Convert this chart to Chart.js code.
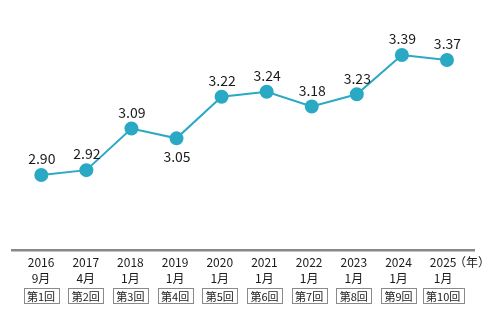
<!DOCTYPE html>
<html>
<head>
<meta charset="utf-8">
<script src="https://cdn.jsdelivr.net/npm/chart.js@4"></script>
<style>
html,body{margin:0;padding:0;background:#fff;}
#c{display:block;}
</style>
</head>
<body>
<canvas id="c" width="486" height="323"></canvas>
<script>
const years = ["2016","2017","2018","2019","2020","2021","2022","2023","2024","2025"];
const months = ["9月","4月","1月","1月","1月","1月","1月","1月","1月","1月"];
const rounds = ["第1回","第2回","第3回","第4回","第5回","第6回","第7回","第8回","第9回","第10回"];
const values = [2.90, 2.92, 3.09, 3.05, 3.22, 3.24, 3.18, 3.23, 3.39, 3.37];
const yearUnit = "（年）";
const labelBelow = [3];

const FONT = '"Noto Sans CJK JP", "Noto Sans", sans-serif';
const LINE = '#2aa9c4';

const extras = {
  id: 'extras',
  afterDatasetsDraw(chart) {
    const ctx = chart.ctx;
    const meta = chart.getDatasetMeta(0);
    ctx.save();
    ctx.font = '14px ' + FONT;
    ctx.fillStyle = '#1a1a1a';
    ctx.textAlign = 'center';
    ctx.textBaseline = 'middle';
    meta.data.forEach((pt, i) => {
      const below = labelBelow.includes(i);
      ctx.fillText(values[i].toFixed(2), pt.x + 0.5, pt.y + (below ? 18 : -16));
    });
    ctx.restore();
  },
  afterDraw(chart) {
    const ctx = chart.ctx;
    const sc = chart.scales.x2;
    ctx.save();
    ctx.font = '11px ' + FONT;
    ctx.textAlign = 'center';
    ctx.textBaseline = 'middle';
    rounds.forEach((t, i) => {
      const x = sc.getPixelForValue(i);
      const w = Math.round(ctx.measureText(t).width + 7);
      const left = Math.round(x - w / 2) + 0.5;
      ctx.fillStyle = '#fff';
      ctx.fillRect(left, 288.5, w, 15);
      ctx.strokeStyle = '#8a8a8a';
      ctx.lineWidth = 1;
      ctx.strokeRect(left, 288.5, w, 15);
      ctx.fillStyle = '#1a1a1a';
      ctx.fillText(t, x, 296.5);
    });
    ctx.font = '12px ' + FONT;
    ctx.textAlign = 'left';
    ctx.fillText(yearUnit, 454, 262);
    ctx.restore();
  }
};

new Chart(document.getElementById('c'), {
  type: 'line',
  data: {
    datasets: [{
      data: values.map((v, i) => ({ x: i, y: v })),
      borderColor: LINE,
      backgroundColor: LINE,
      pointBackgroundColor: LINE,
      pointBorderColor: LINE,
      borderWidth: 2,
      pointRadius: 6,
      pointHoverRadius: 6,
      tension: 0
    }]
  },
  options: {
    responsive: false,
    animation: false,
    events: [],
    layout: { padding: { left: 12, right: 12, top: 10, bottom: 0 } },
    plugins: { legend: { display: false }, tooltip: { enabled: false } },
    scales: {
      x: {
        type: 'linear',
        position: 'bottom',
        weight: 0,
        min: -0.65,
        max: 9.6,
        grid: { display: false },
        border: { display: true, color: '#888', width: 2.5 },
        ticks: { display: false },
        afterFit(s) { s.height = 0; }
      },
      x2: {
        type: 'linear',
        position: 'bottom',
        weight: 1,
        min: -0.65,
        max: 9.69,
        grid: { display: false, drawTicks: false },
        border: { display: false },
        ticks: {
          stepSize: 1,
          includeBounds: false,
          autoSkip: false,
          maxRotation: 0,
          padding: 4,
          color: '#1a1a1a',
          font: { family: FONT, size: 12, lineHeight: 1.33 },
          callback: (v) => Number.isInteger(v) && v >= 0 && v < years.length ? [years[v], months[v]] : ''
        },
        afterFit(s) { s.height = 73; }
      },
      y: {
        display: false,
        min: 2.594,
        max: 3.574
      }
    }
  },
  plugins: [extras]
});
</script>
</body>
</html>
